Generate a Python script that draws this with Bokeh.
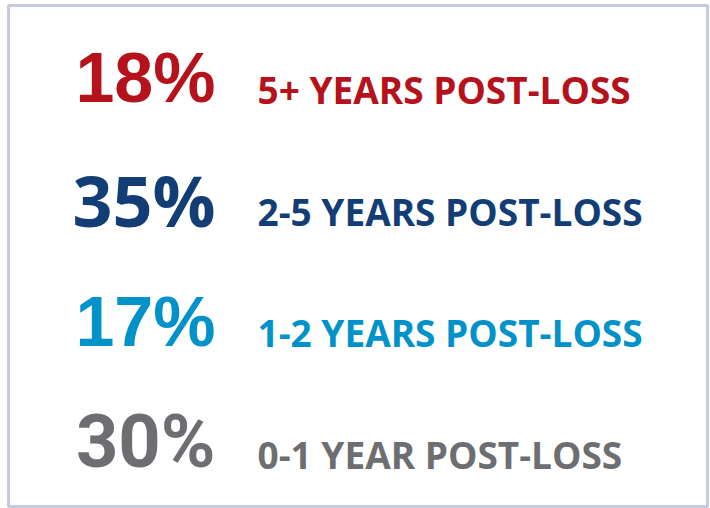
from bokeh.plotting import figure
from bokeh.models import ColumnDataSource, Range1d
from bokeh.embed import file_html
from bokeh.resources import INLINE

# ---- data ----
shares = [18, 35, 17, 30]
labels = ["5+ YEARS POST-LOSS", "2-5 YEARS POST-LOSS", "1-2 YEARS POST-LOSS", "0-1 YEAR POST-LOSS"]

# ---- styles ----
colors = ["#b5121b", "#123e75", "#0092c8", "#6d6e71"]
pct_fonts = ["Liberation Sans", "Open Sans", "Liberation Sans", "Roboto"]
pct_px = [70, 70, 70, 74]
lab_fonts = ["Open Sans", "Open Sans", "Open Sans", "Open Sans"]
lab_px = [37, 37, 37, 37]

W, H = 710, 508
n = len(shares)
rows = list(range(n - 1, -1, -1))  # top row first

src = ColumnDataSource(dict(
    row=rows,
    pct=[f"{v}%" for v in shares],
    label=labels,
    color=colors,
    pfont=pct_fonts,
    psize=[f"{s}px" for s in pct_px],
    poff=[-0.36 * s for s in pct_px],
    lfont=lab_fonts,
    lsize=[f"{s}px" for s in lab_px],
    loff=[-0.38 * s for s in lab_px],
))

p = figure(width=W, height=H, output_backend="svg", toolbar_location=None,
           x_range=Range1d(0, W), y_range=Range1d(-0.329, 3.846),
           min_border=0, background_fill_color="white",
           border_fill_color="white")
p.axis.visible = False
p.grid.visible = False
p.outline_line_color = None

# frame border (pixel range, y downward)
p.extra_y_ranges = {"px": Range1d(start=H, end=0)}
p.quad(left=[8], right=[707], top=[5], bottom=[506], y_range_name="px",
       fill_alpha=0, line_color="#c6cae0", line_width=3)

PCT_X = 215
LAB_X = 257

p.text(x=PCT_X, y="row", text="pct", source=src, text_color="color",
       text_font="pfont", text_font_size="psize", text_font_style="bold",
       text_align="right", text_baseline="alphabetic", y_offset="poff")
p.text(x=LAB_X, y="row", text="label", source=src, text_color="color",
       text_font="lfont", text_font_size="lsize", text_font_style="bold",
       text_align="left", text_baseline="alphabetic", y_offset="loff")

open("out.html", "w").write(file_html(p, INLINE))
